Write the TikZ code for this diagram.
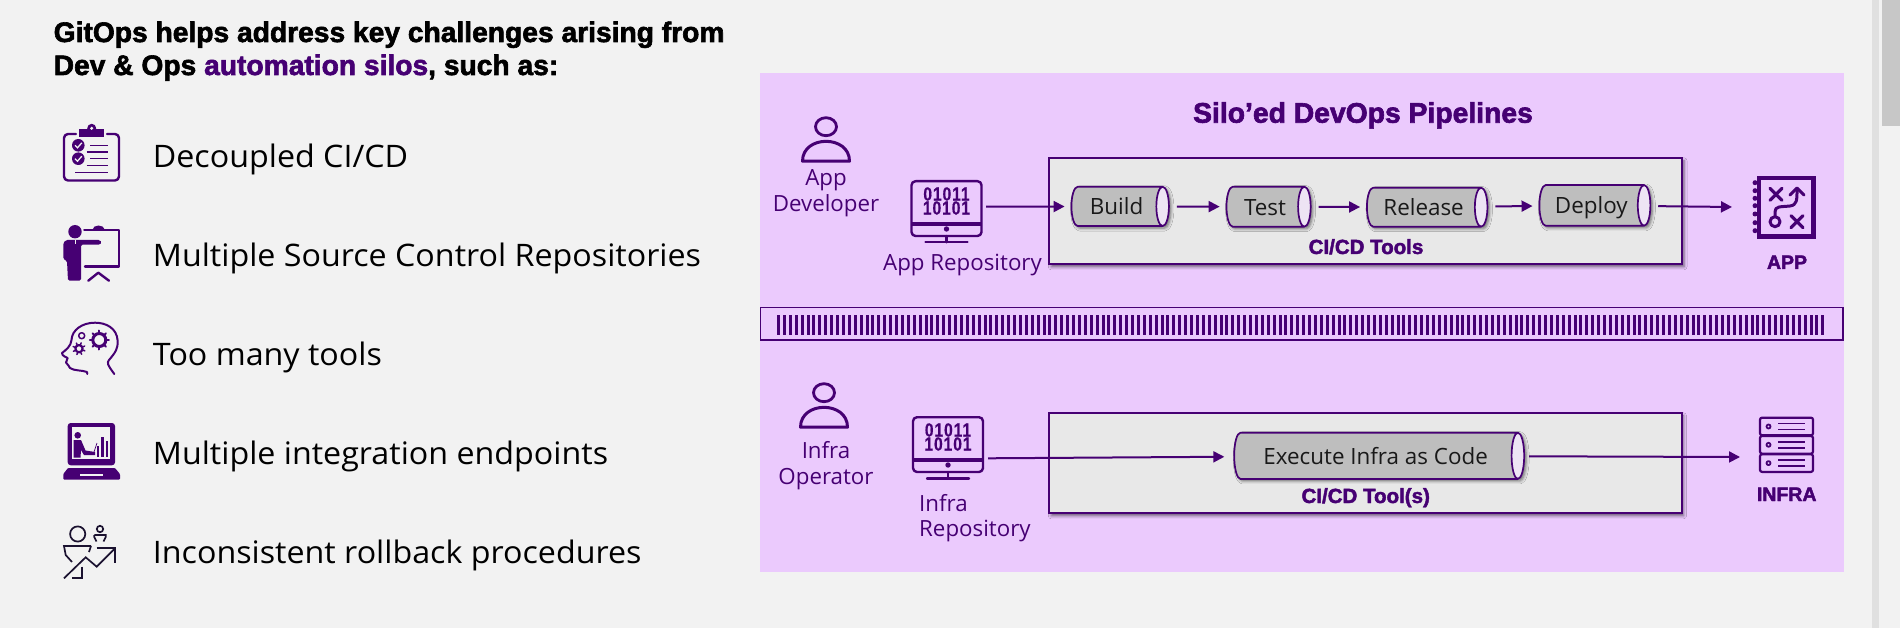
\documentclass[tikz,border=0pt]{standalone}
\usepackage{fontspec}
\setmainfont[FakeStretch=1.04]{Open Sans}
\newfontfamily\labelfont{Open Sans}
\newfontfamily\headfont[FakeBold=2.2]{Liberation Sans Bold}
\newfontfamily\bitfont[FakeStretch=0.82,FakeBold=0.6,LetterSpace=5]{Liberation Sans Bold}
\usetikzlibrary{arrows.meta,shapes.geometric,shadows.blur}
\definecolor{sitebg}{HTML}{F2F2F2}
\definecolor{panelbg}{HTML}{EBCAFD}
\definecolor{silopurple}{HTML}{460073}
\definecolor{toolgrey}{HTML}{E8E8E8}
\definecolor{stagegrey}{HTML}{BEBEBE}
\definecolor{stageend}{HTML}{EDE4F4}
\definecolor{inkdark}{HTML}{1B1230}
\tikzset{
  headtext/.style={anchor=base west,inner sep=0pt,text=black,font=\headfont\fontsize{28.2}{33}\selectfont},
  itemtext/.style={anchor=base west,inner sep=0pt,text=black,font=\fontsize{31}{36}\selectfont},
  roletext/.style={align=center,inner sep=0pt,text=silopurple,font=\labelfont\fontsize{22.3}{25.7}\selectfont},
  boldlabel/.style={anchor=base,inner sep=0pt,text=silopurple,font=\headfont\fontsize{20.5}{24}\selectfont},
  toolbox/.style={draw=silopurple,fill=toolgrey,line width=2pt,
    blur shadow={shadow xshift=2pt,shadow yshift=-2.5pt,shadow blur radius=3pt,shadow opacity=55}},
  stagebase/.style={shape=cylinder,shape aspect=0.6,line width=1.7pt,inner sep=0pt,text height=19pt,text depth=2pt},
  stageback/.style={stagebase,fill=stagegrey,
    blur shadow={shadow xshift=2pt,shadow yshift=-2pt,shadow blur radius=3pt,shadow opacity=55}},
  stage/.style={stagebase,draw=silopurple,
    cylinder uses custom fill,cylinder body fill=stagegrey,cylinder end fill=stageend,
    text=black!90,font=\labelfont\fontsize{22.4}{26}\selectfont},
  flow/.style={draw=silopurple,line width=2pt,-{Triangle[length=11pt,width=11pt]}},
  iconline/.style={draw=silopurple,line width=2.4pt,line cap=round,line join=round},
  thinline/.style={draw=silopurple,line width=1.2pt},
  darkline/.style={draw=inkdark,line width=1.7pt,line join=miter},
  person/.pic={
    \draw[iconline,line width=2.8pt] (0,0) circle[x radius=10.5,y radius=9];
    \draw[iconline,line width=3pt] (-23.5,34.5) .. controls (-23.5,8) and (23.5,8) .. (23.5,34.5) -- cycle;
  },
  repoicon/.pic={
    \draw[iconline,rounded corners=4pt] (-35,1.2) rectangle (35,56);
    \fill[silopurple] (-35,41.7) rectangle (35,45.7);
    \fill[silopurple] (0,49) circle[radius=2.7];
    \draw[iconline] (0,56) -- (0,62.3);
    \draw[iconline] (-21,62.3) -- (21,62.3);
    \node[inner sep=0pt,text=silopurple,align=center,font=\bitfont\fontsize{19}{14}\selectfont] (bits) at (0,21) {01011\\10101};
  },
  barcode/.style={draw=silopurple,line width=3pt}
}
\begin{document}
\begin{tikzpicture}[x=1pt,y=-1pt]
        \useasboundingbox (0,0) rectangle (1900,628);
        \fill[sitebg] (0,0) rectangle (1900,628);
        \fill[black!12] (1872,0) rectangle (1879,628);
        \fill[black!22] (1882,0) rectangle (1900,126);
        \fill[panelbg] (759.5,73) rectangle (1844,572);

        \node[headtext] (headone) at (53.5,42) {GitOps helps address key challenges arising from};
        \node[headtext] (headtwo) at (53.5,75) {Dev \& Ops \textcolor{silopurple}{automation silos}, such as:};

        \node[itemtext] (itemone)   at (152.7,168) {Decoupled CI/CD};
        \node[itemtext] (itemtwo)   at (152.7,267) {Multiple Source Control Repositories};
        \node[itemtext] (itemthree) at (152.7,365) {Too many tools};
        \node[itemtext] (itemfour)  at (152.7,464) {Multiple integration endpoints};
        \node[itemtext] (itemfive)  at (152.7,563) {Inconsistent rollback procedures};

        \draw[iconline,rounded corners=4pt] (76,134) -- (64,134) -- (64,180.5) -- (119,180.5) -- (119,134) -- (107,134);
        \fill[silopurple] (79.3,129.3) rectangle (104,136.7);
        \fill[silopurple] (91.7,128.3) circle[radius=4.5];
        \fill[sitebg] (91.7,128.3) circle[radius=1.7];
        \foreach \cy in {145.3,158.7} {
          \fill[silopurple] (78.3,\cy) circle[radius=6.3];
          \draw[sitebg,line width=1.3pt] (75,\cy) -- (77.5,\cy+2.5) -- (81.8,\cy-2.5);
        }
        \draw[thinline] (90,145.3) -- (107.7,145.3);
        \draw[thinline] (86.7,152) -- (107.7,152);
        \draw[thinline] (90,158.7) -- (107.7,158.7);
        \draw[thinline] (86.7,165.7) -- (107.7,165.7);
        \draw[thinline] (75,172.3) -- (107.7,172.3);

        \fill[silopurple] (75,231.7) circle[radius=6.7];
        \fill[silopurple,rounded corners=1.5pt] (63.3,243) -- (66,240) -- (100,240) -- (101.7,242.3) -- (100,244.7) -- (81,244.7) -- (81,280.7) -- (68,280.7) -- (67,261) -- (63.3,259) -- cycle;
        \draw[sitebg,line width=0.8pt] (75,240.3) -- (75,244);
        \draw[iconline] (84.3,230) -- (119,230) -- (119,266.7) -- (85,266.7);
        \fill[silopurple] (92.3,230) .. controls (93,224) and (104,224) .. (105,230) -- cycle;
        \draw[iconline] (88.3,280.7) -- (98.3,272.7) -- (109,280.7);

        \draw[iconline,line width=2pt] (114.3,374) .. controls (107,364) and (107,363) .. (109,360) .. controls (116,352) and (118,348) .. (117.7,341) .. controls (117,328) and (106,322.7) .. (95,322.7) .. controls (82,322.7) and (72,330) .. (71.5,340) .. controls (71,346) and (66,350) .. (62,353) .. controls (62,356) and (66,357) .. (67.7,358) .. controls (66,361) and (67,362) .. (66,362.5) .. controls (68,365) and (69,366) .. (70,368) .. controls (74,371) and (82,370) .. (87,372) .. controls (88,373) and (87,373) .. (87.3,374);
        \draw[iconline,line width=3pt] (99.3,340) circle[radius=6.5];
        \draw[iconline,line width=2.2pt] (79,348.7) circle[radius=3.6];
        \draw[iconline,line width=1.5pt] (81.7,335.7) circle[radius=3];
        \foreach \ang in {0,45,...,315} {
          \draw[iconline,line width=2pt] (99.3,340) ++(\ang:7.5) -- ++(\ang:2);
          \draw[iconline,line width=1.5pt] (79,348.7) ++(\ang+20:4.5) -- ++(\ang+20:1.7);
        }

        \fill[silopurple,rounded corners=3pt] (67.7,423) rectangle (115,465.3);
        \fill[sitebg] (72.3,427.3) rectangle (110.3,458.7);
        \fill[silopurple] (77.7,435.3) circle[radius=3.3];
        \fill[silopurple] (73.7,440) -- (81,440) -- (85.5,450.5) -- (95,452) -- (95,455) -- (84,455) -- (81,450) -- (80.5,457.5) -- (73.7,457.5) -- cycle;
        \draw[silopurple,line width=0.7pt] (94,452) -- (97,443);
        \fill[silopurple] (96.7,446.3) rectangle (99.3,457.3);
        \fill[silopurple] (101,437.3) rectangle (104,457.3);
        \fill[silopurple] (105.7,441.3) rectangle (108.3,457.3);
        \fill[silopurple,rounded corners=1pt] (68,468) -- (115,468) -- (120,474) -- (120,479.7) -- (63.3,479.7) -- (63.3,474) -- cycle;
        \fill[sitebg] (80,474.3) rectangle (103.3,476);

        \draw[darkline] (77.7,534) circle[radius=7.6];
        \draw[darkline] (100,529) circle[radius=3.2];
        \draw[darkline] (94.3,535) -- (105.7,535) -- (105.7,537) -- (103.5,541.5);
        \draw[darkline] (94.3,535) -- (94.3,537) -- (96.5,541.5);
        \draw[darkline] (91,546) -- (64,546) -- (65.7,555) -- (72,562);
        \draw[darkline] (91,546) -- (89,552);
        \draw[darkline] (64,578.3) -- (85.7,557.3) -- (96.7,566.7) -- (115,548.3);
        \draw[darkline] (96.7,548.3) -- (115,548.3) -- (115,563.3);
        \draw[darkline] (81.7,566.7) -- (81.7,578.3) -- (71.7,578.3);

        \node[font=\headfont\fontsize{28.3}{30}\selectfont,text=silopurple,anchor=base,inner sep=0pt] (title) at (1363,122.7) {Silo’ed DevOps Pipelines};

        \pic at (826,126.7) {person};
        \node[roletext,anchor=base] (devrole) at (826,211.7) {App\\Developer};
        \pic at (946.5,180) {repoicon};
        \node[roletext,anchor=base] (apprepolabel) at (962.5,271) {App Repository};
        \coordinate (apprepo) at (986,206.7);

        \node[toolbox,minimum width=632.7pt,minimum height=106pt,inner sep=0pt] (apptools) at (1365.65,211.3) {};
        \node[boldlabel] (applabel) at (1366,254) {CI/CD Tools};
        \foreach \stagename/\cx/\cy/\len/\wid/\txt in {build/1116.6/206.4/97.5/39.3/Build,test/1265/206.7/84.2/40/Test,release/1423.6/207.2/120.5/39/Release,deploy/1591.3/205.4/111/40.7/Deploy} {
          \node[stageback,minimum height=\len pt,minimum width=\wid pt] at (\cx,\cy) {};
          \node[stage,minimum height=\len pt,minimum width=\wid pt] (\stagename) at (\cx,\cy) {\txt};
        }

        \draw[flow,shorten >=6pt] (apprepo) -- (build);
        \draw[flow,shorten <=7pt,shorten >=6pt] (build) -- (test);
        \draw[flow,shorten <=7pt,shorten >=6pt] (test) -- (release);
        \draw[flow,shorten <=7pt,shorten >=6pt] (release) -- (deploy);
        \coordinate (appicon) at (1732,207);
        \draw[flow,shorten <=7pt] (deploy) -- (appicon);

        \draw[silopurple,line width=4.7pt] (1759,178) rectangle (1813.4,236.7);
        \foreach \dy in {182.7,190.7,198.3,205.7,214,222.7,230.7} {
          \fill[silopurple] (1755,\dy) circle[radius=2.5];
        }
        \draw[iconline,line width=3.2pt] (1770,188.3) -- (1782,200.3);
        \draw[iconline,line width=3.2pt] (1782,188.3) -- (1770,200.3);
        \draw[iconline,line width=3.2pt] (1791,215.7) -- (1803,227.7);
        \draw[iconline,line width=3.2pt] (1803,215.7) -- (1791,227.7);
        \draw[iconline,line width=3pt] (1775,221.7) circle[radius=5];
        \draw[iconline,line width=3pt] (1775,216.7) -- (1775,212) .. controls (1775,206) and (1780,207) .. (1790,206) .. controls (1797,205) and (1797,200) .. (1797,190);
        \draw[iconline,line width=3pt] (1790,195) -- (1797,188) -- (1804,195);
        \node[boldlabel,font=\headfont\fontsize{19.5}{22}\selectfont] (applbl) at (1787,269) {APP};

        \draw[silopurple,line width=1.8pt] (760.4,307.5) rectangle (1843.2,340);
        \foreach \k in {0,...,177} {
          \draw[barcode] (778.5+\k*5.9,315) -- (778.5+\k*5.9,335);
        }

        \pic at (824,392.7) {person};
        \node[roletext,anchor=base] (oprole) at (826,484) {Infra\\Operator};
        \pic at (948,416) {repoicon};
        \node[roletext,anchor=base west,align=left] (infrarepolabel) at (919,536.7) {Infra\\Repository};
        \coordinate (infrarepo) at (988,458.3);

        \node[toolbox,minimum width=632.2pt,minimum height=100pt,inner sep=0pt] (infratools) at (1365.4,463.3) {};
        \node[boldlabel] (infralabel) at (1365.7,503) {CI/CD Tool(s)};
        \node[stageback,minimum height=290pt,minimum width=46.3pt] at (1375.6,455.8) {};
        \node[stage,minimum height=290pt,minimum width=46.3pt] (execute) at (1375.6,455.8) {Execute Infra as Code};
        \draw[flow,shorten >=9pt] (infrarepo) -- (execute);
        \coordinate (infraicon) at (1740,457);
        \draw[flow,shorten <=4pt] (execute) -- (infraicon);

        \foreach \ty in {0,1,2} {
          \draw[iconline,rounded corners=2pt,line width=2.2pt] (1760,417.7+\ty*18.3) rectangle (1813,435.3+\ty*18.3);
          \draw[iconline,line width=1.8pt] (1768.5,426.5+\ty*18.3) circle[radius=2];
          \draw[thinline,line width=1.8pt] (1778,423.5+\ty*18.3) -- (1805,423.5+\ty*18.3);
          \draw[thinline,line width=1.8pt] (1778,429.5+\ty*18.3) -- (1805,429.5+\ty*18.3);
        }
        \node[boldlabel,font=\headfont\fontsize{19.5}{22}\selectfont] (infralbl) at (1786.7,501) {INFRA};
\end{tikzpicture}
\end{document}
